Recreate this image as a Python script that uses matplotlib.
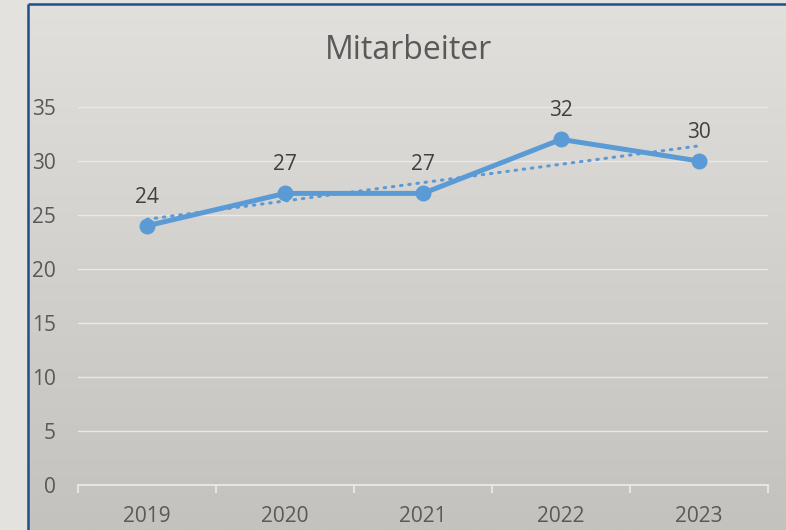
import numpy as np
import matplotlib
matplotlib.use("Agg")
import matplotlib.pyplot as plt
from matplotlib.patches import Rectangle

plt.rcParams['font.family'] = ['Open Sans', 'DejaVu Sans']

years = ["2019", "2020", "2021", "2022", "2023"]
employees = [24, 27, 27, 32, 30]
y_ticks = [0, 5, 10, 15, 20, 25, 30, 35]
title = "Mitarbeiter"

W, H = 786, 530
fig = plt.figure(figsize=(W / 100, H / 100), dpi=100)

# background gradient
bg = fig.add_axes([0, 0, 1, 1], zorder=-10)
grad = np.linspace(0, 1, 256).reshape(-1, 1)
top_c = np.array([0xe2, 0xe0, 0xdd]) / 255
bot_c = np.array([0xc3, 0xc2, 0xbe]) / 255
img = top_c[None, None, :] * (1 - grad[:, :, None]) + bot_c[None, None, :] * grad[:, :, None]
bg.imshow(img, aspect='auto', extent=[0, 1, 0, 1], origin='upper')
bg.set_xlim(0, 1); bg.set_ylim(0, 1)
bg.axis('off')
# lighter strip outside the chart frame
bg.add_patch(Rectangle((0, 0), 28 / W, 1, color='#e4e2df', zorder=1))
bg.add_patch(Rectangle((0, 1 - 4 / H), 1, 4 / H, color='#e4e2df', zorder=1))
# frame lines
bg.plot([28 / W, 28 / W], [0, 1 - 4 / H], color='#1f4e8c', lw=1.8, zorder=2, solid_capstyle='butt')
bg.plot([28 / W, 1], [1 - 4 / H, 1 - 4 / H], color='#1f4e8c', lw=1.8, zorder=2, solid_capstyle='butt')

ax = fig.add_axes([78 / W, 1 - 485 / H, (768 - 78) / W, (485 - 107) / H])
ax.patch.set_alpha(0)
x = np.arange(len(years))

ax.set_xlim(-0.5, len(years) - 0.5)
ax.set_ylim(0, 35)
ax.set_yticks(y_ticks)
ax.set_yticklabels([str(v) for v in y_ticks])
for v in y_ticks[1:]:
    ax.axhline(v, color='#e9e9e9', lw=1.0, zorder=1)

ax.set_xticks(x)
ax.set_xticklabels(years)
ax.tick_params(axis='x', length=0, pad=15, labelsize=15, labelcolor='#595959')
ax.tick_params(axis='y', length=0, pad=16, labelsize=15, labelcolor='#595959')

for s in ['top', 'right', 'left']:
    ax.spines[s].set_visible(False)
ax.spines['bottom'].set_color('#ececec')
ax.spines['bottom'].set_linewidth(1.2)
# category boundary ticks
ax.set_xticks(np.arange(-0.5, len(years), 1.0), minor=True)
ax.tick_params(axis='x', which='minor', length=6, width=1.2, color='#ececec', direction='out')

# trend line
coef = np.polyfit(x, employees, 1)
trend = np.polyval(coef, x)
ax.plot(x, trend, color='#5b9bd5', lw=2.2, linestyle=(0, (0.5, 2.2)),
        dash_capstyle='round', zorder=3)

ax.plot(x, employees, color='#5b9bd5', lw=3.6, marker='o', markersize=10.5,
        zorder=4, solid_joinstyle='round')

for xi, yi in zip(x, employees):
    ax.annotate(str(yi), (xi, yi), xytext=(0, 16.5), textcoords='offset points',
                ha='center', va='baseline', fontsize=15, color='#404040')

fig.text(409 / W, 1 - 59 / H, title, ha='center', va='baseline', fontsize=23, color='#595959')

fig.savefig('out.png', dpi=100)
